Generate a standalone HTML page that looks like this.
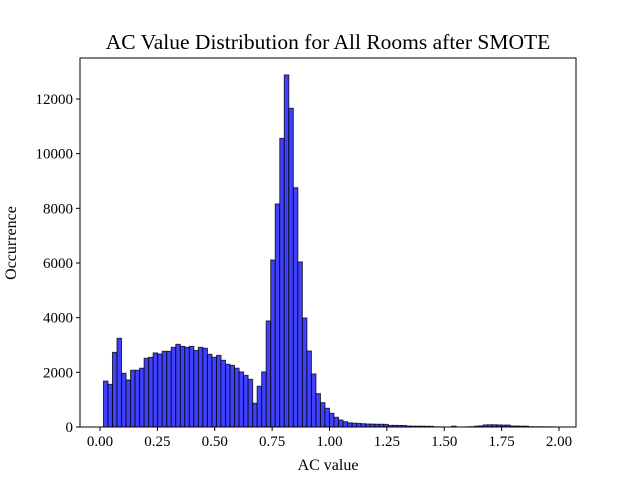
<!DOCTYPE html>
<html><head><meta charset="utf-8"><style>
body{margin:0;background:#fff;}
svg{display:block;font-family:"Liberation Serif",serif;}
</style></head><body>
<svg id="chart" width="640" height="480" viewBox="0 0 640 480"></svg>
<script>
const binStart = 0.015;
const binWidth = 0.0197;
const counts = [1680,1560,2730,3245,1965,1720,2075,2075,2150,2515,2550,2710,2670,2770,2770,2915,3025,2950,2915,2950,2800,2915,2880,2660,2550,2620,2440,2295,2255,2150,2015,1890,1745,870,1490,2015,3880,
6110,8160,10560,12880,11660,8755,6040,3990,2780,1940,1220,890,685,500,355,255,195,150,
140,130,120,110,105,100,100,95,60,60,55,55,35,30,30,30,25,25,5,5,0,0,30,0,0,5,10,30,40,75,80,80,75,70,70,35,35,30,30,10,8,8,5,5,3];
const xTicks = [0,0.25,0.5,0.75,1.0,1.25,1.5,1.75,2.0];
const xTickLabels = ["0.00","0.25","0.50","0.75","1.00","1.25","1.50","1.75","2.00"];
const yTicks = [0,2000,4000,6000,8000,10000,12000];

const svg = document.getElementById('chart');
const NS = 'http://www.w3.org/2000/svg';
const L=80,R=576,T=58,B=427;
const x = v => 100 + v*229.5;
const y = v => B - v*(328/12000);
function mk(tag, attrs, parent){const e=document.createElementNS(NS,tag);for(const k in attrs)e.setAttribute(k,attrs[k]);(parent||svg).appendChild(e);return e;}

const bars = mk('g',{});


counts.forEach((c,i)=>{
  const x0=x(binStart+i*binWidth), x1=x(binStart+(i+1)*binWidth);
  const r=mk('rect',{x:x0,y:y(c),width:x1-x0,height:B-y(c),fill:'#4040ff','stroke':'rgba(0,0,0,0.75)','stroke-width':1},bars);
  
  
});

const frame = mk('rect',{x:L,y:T,width:R-L,height:B-T,fill:'none',stroke:'#000','stroke-width':1});



xTicks.forEach((v,i)=>{
  mk('line',{x1:x(v),x2:x(v),y1:B,y2:B+4,stroke:'#000'});
  const t=mk('text',{x:x(v),y:B+19,'font-size':15,'text-anchor':'middle'});
  t.textContent=xTickLabels[i];
  
  
});
yTicks.forEach(v=>{
  mk('line',{x1:L-4,x2:L,y1:y(v),y2:y(v),stroke:'#000'});
  const t=mk('text',{x:L-7,y:y(v)+5,'font-size':15,'text-anchor':'end'});
  t.textContent=String(v);
  
  
});

const title=mk('text',{x:328,y:49,'font-size':21.5,'text-anchor':'middle'});
title.textContent='AC Value Distribution for All Rooms after SMOTE';


const xl=mk('text',{x:328,y:470,'font-size':16,'text-anchor':'middle'});
xl.textContent='AC value';


const yl=mk('text',{x:16,y:243,'font-size':16,'text-anchor':'middle',transform:'rotate(-90 16 243)'});
yl.textContent='Occurrence';


</script>
</body></html>
